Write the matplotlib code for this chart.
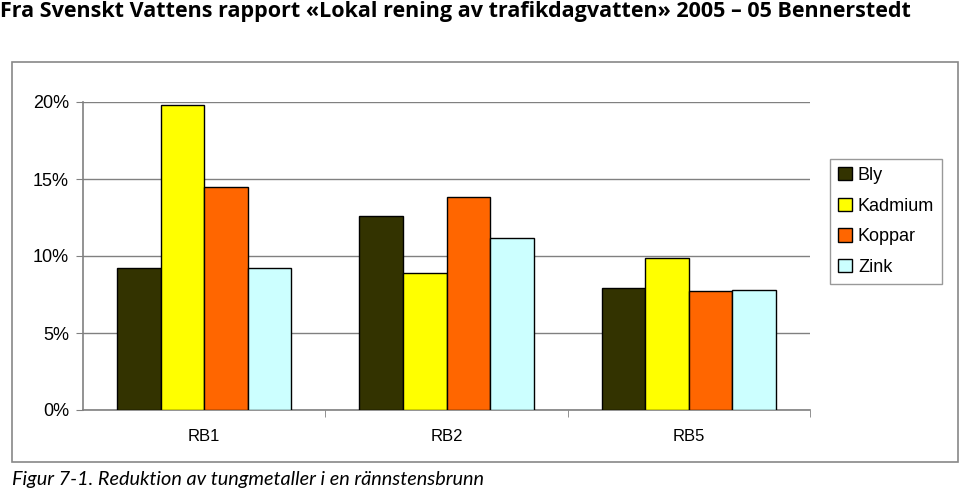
import matplotlib.pyplot as plt
import matplotlib.patches as mpatches
import numpy as np
from matplotlib.ticker import FuncFormatter

# data
groups = ["RB1", "RB2", "RB5"]
metals = ["Bly", "Kadmium", "Koppar", "Zink"]
bly = [9.2, 12.6, 7.9]
kadmium = [19.8, 8.9, 9.9]
koppar = [14.5, 13.8, 7.75]
zink = [9.2, 11.2, 7.8]
colors = ["#333300", "#ffff00", "#ff6600", "#ccffff"]

fig = plt.figure(figsize=(9.6, 4.92), dpi=100)

# title at top
fig.text(0.0, 0.997, "Fra Svenskt Vattens rapport «Lokal rening av trafikdagvatten» 2005 – 05 Bennerstedt",
         ha="left", va="top", fontsize=15.5, fontweight="bold",
         family=["Open Sans", "DejaVu Sans"])

# outer frame of the embedded figure
frame = mpatches.Rectangle((12 / 960, 1 - 462 / 492), 946 / 960, 400 / 492,
                           transform=fig.transFigure, fill=False, edgecolor="#888888", lw=1.2)
fig.patches.append(frame)

ax = fig.add_axes([83 / 960, 1 - 410 / 492, 727 / 960, 308 / 492])
x = np.arange(len(groups))
w = 0.18
series = [bly, kadmium, koppar, zink]
for i, vals in enumerate(series):
    ax.bar(x + (i - 1.5) * w, vals, w, color=colors[i], edgecolor="black", lw=1.0,
           label=metals[i], zorder=3)

ax.set_xlim(-0.5, 2.5)
ax.set_ylim(0, 20)
ax.set_yticks([0, 5, 10, 15, 20])
ax.yaxis.set_major_formatter(FuncFormatter(lambda v, p: "%d%%" % v))
ax.yaxis.grid(True, color="#808080", lw=1.0, zorder=0)
ax.set_xticks(x)
ax.set_xticklabels(groups)
ax.set_xticks([0.5, 1.5, 2.5], minor=True)
ax.tick_params(axis="x", which="major", length=0, pad=14, labelsize=12)
ax.tick_params(axis="x", which="minor", length=5, color="#808080")
ax.tick_params(axis="y", length=5, color="#808080", labelsize=13, pad=5)
for t in ax.get_xticklabels() + ax.get_yticklabels():
    t.set_family(["Liberation Sans", "DejaVu Sans"])
for s in ["top", "right"]:
    ax.spines[s].set_visible(False)
for s in ["left", "bottom"]:
    ax.spines[s].set_color("#808080")
    ax.spines[s].set_linewidth(1.2)

leg = fig.legend(loc="upper left", bbox_to_anchor=(830 / 960, 1 - 159 / 492),
                 frameon=True, fancybox=False, edgecolor="#808080",
                 prop={"family": "Liberation Sans", "size": 13},
                 handlelength=0.75, handleheight=0.75, handletextpad=0.35,
                 labelspacing=0.75, borderpad=0.45, borderaxespad=0)
leg.get_frame().set_linewidth(1.0)

fig.text(12 / 960, 1 - 479 / 492, "Figur 7-1. Reduktion av tungmetaller i en rännstensbrunn",
         ha="left", va="center", fontsize=14.3, style="italic",
         family=["Lato", "DejaVu Sans"])

fig.savefig("out.png", dpi=100)
